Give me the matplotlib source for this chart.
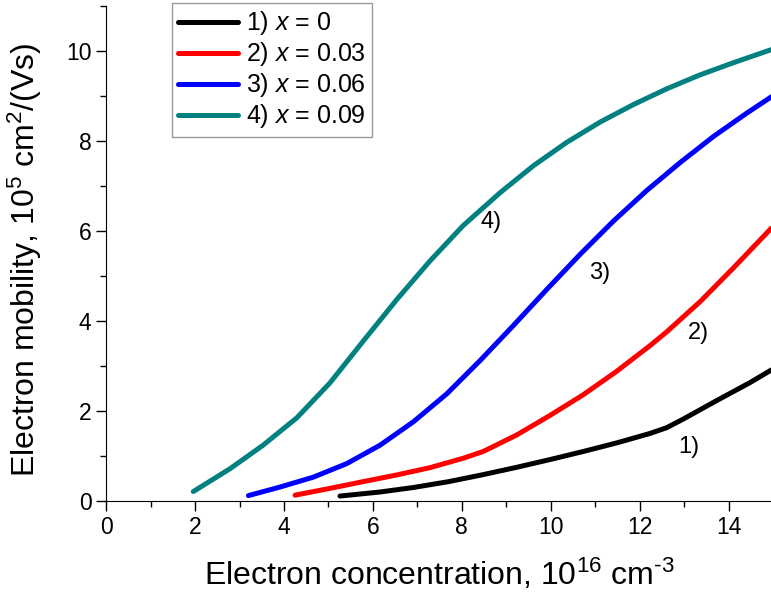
import numpy as np
import matplotlib
matplotlib.use("Agg")
import matplotlib.pyplot as plt
from matplotlib.ticker import MultipleLocator

plt.rcParams['font.family'] = ['Liberation Sans', 'DejaVu Sans']
plt.rcParams['mathtext.fontset'] = 'custom'
plt.rcParams['mathtext.rm'] = 'Liberation Sans'
plt.rcParams['mathtext.it'] = 'Liberation Sans:italic'

# Daten
n1 = [5.26, 6.16, 6.91, 7.7, 8.45, 9.24, 9.98, 10.73, 11.48, 12.23, 12.61, 12.98, 13.73, 14.48, 14.96]
mu1 = [0.11, 0.2, 0.3, 0.43, 0.58, 0.75, 0.92, 1.1, 1.29, 1.5, 1.63, 1.82, 2.23, 2.63, 2.91]

n2 = [4.25, 5.03, 5.78, 6.54, 7.28, 8.03, 8.48, 9.24, 9.98, 10.73, 11.48, 12.23, 12.61, 13.36, 14.11, 14.96]
mu2 = [0.13, 0.28, 0.43, 0.58, 0.74, 0.95, 1.1, 1.47, 1.9, 2.36, 2.88, 3.45, 3.76, 4.43, 5.18, 6.06]

n3 = [3.2, 3.91, 4.66, 5.41, 6.16, 6.91, 7.66, 8.41, 9.16, 9.91, 10.66, 11.41, 12.16, 12.91, 13.66, 14.41, 14.96]
mu3 = [0.12, 0.31, 0.53, 0.83, 1.24, 1.76, 2.38, 3.12, 3.9, 4.7, 5.48, 6.22, 6.9, 7.52, 8.1, 8.62, 8.98]

n4 = [1.96, 2.79, 3.53, 4.29, 5.03, 5.78, 6.54, 7.28, 8.03, 8.86, 9.61, 10.36, 11.11, 11.86,
      12.61, 13.36, 14.11, 14.96]
mu4 = [0.21, 0.72, 1.24, 1.85, 2.62, 3.55, 4.48, 5.33, 6.12, 6.85, 7.45, 7.97, 8.42, 8.81,
       9.16, 9.47, 9.74, 10.03]

labels = ['1) $x$ = 0', '2) $x$ = 0.03', '3) $x$ = 0.06', '4) $x$ = 0.09']
colors = ['black', '#ff0000', '#0000ff', '#008080']
tags = ['1)', '2)', '3)', '4)']
tag_pos = [(13.1, 1.2), (13.32, 3.73), (11.09, 5.06), (8.65, 6.2)]

fig = plt.figure(figsize=(7.71, 6.0), dpi=100)
ax = fig.add_axes([0.1377, 0.165, 0.8649, 0.825])

for n, mu, lab, col in zip([n1, n2, n3, n4], [mu1, mu2, mu3, mu4], labels, colors):
    ax.plot(n, mu, color=col, linewidth=3.6, label=lab, solid_capstyle='round',
            solid_joinstyle='round')

for t, (px, py) in zip(tags, tag_pos):
    ax.text(px, py, t, fontsize=17, ha='center', va='center')

ax.set_xlim(0, 15)
ax.set_ylim(0, 11)
ax.xaxis.set_major_locator(MultipleLocator(2))
ax.xaxis.set_minor_locator(MultipleLocator(1))
ax.yaxis.set_major_locator(MultipleLocator(2))
ax.yaxis.set_minor_locator(MultipleLocator(1))
ax.tick_params(which='major', direction='out', length=7, width=1, labelsize=16.5)
ax.tick_params(which='minor', direction='out', length=4, width=1)
ax.spines['top'].set_visible(False)
ax.spines['right'].set_visible(False)

ax.set_xlabel(r'Electron concentration, 10$^{16}$ cm$^{\text{-3}}$', fontsize=23, labelpad=13)
ax.set_ylabel('Electron mobility, 10$^{5}$ cm$^{2}$/(Vs)', fontsize=23)
ax.yaxis.set_label_coords(-0.093, 0.487)

leg = ax.legend(loc='upper left', bbox_to_anchor=(0.0987, 1.006), fontsize=18,
                frameon=True, fancybox=False, framealpha=1, edgecolor='#999999',
                handlelength=2.4, labelspacing=0.12, borderpad=0.25, handletextpad=0.3,
                borderaxespad=0)
leg.get_frame().set_linewidth(1.0)

fig.savefig('out.png', dpi=100)
